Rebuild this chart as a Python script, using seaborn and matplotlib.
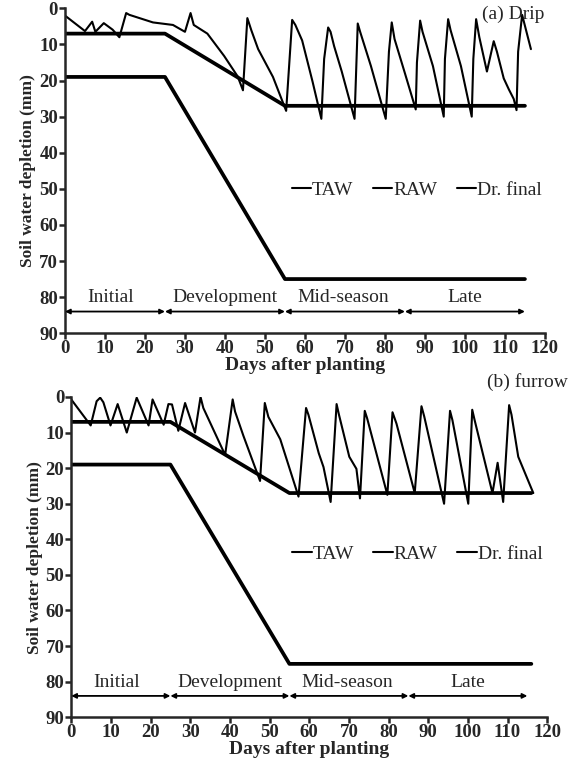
import matplotlib
matplotlib.use("Agg")
import matplotlib.pyplot as plt
import seaborn as sns
import pandas as pd
from matplotlib.lines import Line2D

# ---------------- data ----------------
drip_stage_days = [0, 25, 55, 115]
furrow_stage_days = [0, 25, 55, 116]
taw_mm = [19, 19, 75, 75]
raw_mm = [7, 7, 27, 27]

drip_days = [0, 5, 6.8, 7.6, 9.7, 11.9, 13.6, 15.3, 16.1, 22, 27, 30, 31.4, 32.2,
             35.6, 39.8, 43.2, 44.5, 45.6, 46.6, 48.3, 52, 55.3, 56.8, 57.6, 59.3,
             61.9, 64.1, 64.8, 65.8, 66.4, 67.3, 69.2, 72.4, 73.2, 73.8, 76.5, 80.2,
             81.0, 81.7, 82.4, 85, 87.7, 88.0, 88.8, 89.4, 92, 94.7, 95.0, 95.8,
             96.4, 99, 101.7, 102.1, 102.8, 103.6, 105.5, 107.2, 108.0, 109.7, 111,
             112.2, 112.9, 113.3, 114.3, 116.5]
drip_dr = [2.0, 6.3, 3.7, 6.5, 4.1, 5.9, 8.0, 1.3, 1.8, 3.9, 4.6, 6.5, 1.3, 4.6,
           7.0, 13.2, 18.9, 22.7, 2.7, 6.1, 11.3, 19, 28.4, 3.2, 4.6, 8.9,
           20.3, 30.6, 14, 5.3, 6.5, 10.5, 17.5, 30.6, 4.2, 6.5, 16, 30.6,
           12, 3.9, 8.5, 18, 28.0, 15, 3.4, 6.5, 16, 30, 14, 3.0,
           6, 16, 30, 14, 3.0, 8, 17.5, 9.1, 12, 19.4, 22.5,
           25.1, 28.2, 12, 1.8, 11.3]

furrow_days = [0, 4.9, 6.4, 7.3, 8.1, 9.9, 11.7, 14.0, 16.5, 19.5, 20.5, 23.3, 24.5,
               25.4, 27.0, 28.7, 31.2, 32.6, 33.3, 38.8, 40.7, 41.3, 43.4, 47.6,
               48.8, 49.7, 52.7, 57.3, 59.2, 59.8, 62.4, 63.6, 65.4, 66.9, 67.5,
               70.1, 71.9, 72.8, 74.0, 74.6, 79.7, 81.0, 82.0, 86.6, 88.3, 89.0, 94.0,
               95.5, 96.1, 100.1, 101.1, 101.7, 106.2, 107.5, 108.9, 110.4, 111.0,
               112.7, 115.6, 116.5]
furrow_dr = [0.7, 8, 1.2, 0.2, 1.5, 8, 2, 10, 0.2, 8, 0.7, 7.8, 2,
             2.1, 9.5, 1.7, 10, 0, 3.1, 16.3, 0.7, 4.1, 10.9, 23.6,
             1.7, 5.6, 11.9, 28, 3.1, 5, 15.8, 19.7, 29.5, 2, 5,
             16.8, 20.2, 28.5, 3.9, 6, 27.5, 4.3, 7.5, 27, 2.6, 5.5, 30,
             3.9, 6.5, 30, 3.6, 6.5, 27, 18.5, 29.5, 2.3, 5,
             16.8, 24.6, 27]

stages = ["Initial", "Development", "Mid-season", "Late"]
stage_bounds = [0, 25, 55, 85, 115]
stage_label_x = [11.5, 40, 69.5, 100]
legend_labels = ["TAW", "RAW", "Dr. final"]
x_ticks = list(range(0, 121, 10))
y_ticks = list(range(0, 91, 10))

# ---------------- style ----------------
sns.set_style("ticks")
plt.rcParams["font.family"] = ["Liberation Serif", "DejaVu Serif"]
plt.rcParams["axes.linewidth"] = 1.8

fig = plt.figure(figsize=(5.70, 7.59), dpi=100)
ax1 = fig.add_axes([0.114, 0.561, 0.842, 0.428])
ax2 = fig.add_axes([0.125, 0.055, 0.835, 0.422])

panels = [
    (ax1, drip_stage_days, drip_days, drip_dr, 0.733, 0.44, 84.0, 82.6),
    (ax2, furrow_stage_days, furrow_days, furrow_dr, 0.727, 0.51, 84.0, 82.6),
]

for ax, sd, dd, dr, leg_x, leg_y, arr_y, txt_y in panels:
    sns.lineplot(x=sd, y=taw_mm, ax=ax, color="black", linewidth=2.7)
    sns.lineplot(x=sd, y=raw_mm, ax=ax, color="black", linewidth=2.7)
    df = pd.DataFrame({"day": dd, "dr": dr})
    sns.lineplot(data=df, x="day", y="dr", ax=ax, color="black", linewidth=1.5,
                 sort=False, estimator=None)
    ax.set_xlim(0, 120)
    ax.set_ylim(90, 0)
    ax.set_xticks(x_ticks)
    ax.set_yticks(y_ticks)
    ax.tick_params(axis="both", direction="out", length=4, width=1.8,
                   labelsize=13.5, pad=1)
    for lab in ax.get_xticklabels() + ax.get_yticklabels():
        lab.set_fontweight("bold")
    sns.despine(ax=ax)
    ax.set_xlabel("Days after planting", fontsize=14, fontweight="bold", labelpad=0)
    ax.set_ylabel("Soil water depletion (mm)", fontsize=12.5, fontweight="bold",
                  labelpad=2)

    # growth stages
    for i in range(len(stages)):
        ax.annotate("", xy=(stage_bounds[i + 1], arr_y), xytext=(stage_bounds[i], arr_y),
                    arrowprops=dict(arrowstyle="<|-|>", color="black", lw=1.3,
                                    mutation_scale=7, shrinkA=0, shrinkB=0))
        ax.text(stage_label_x[i], txt_y, stages[i], ha="center", va="bottom",
                fontsize=14)

    handles = [Line2D([0], [0], color="black", lw=1.5) for _ in legend_labels]
    ax.legend(handles, legend_labels, loc="center", ncol=3, frameon=False,
              bbox_to_anchor=(leg_x, leg_y), handlelength=1.0, handletextpad=0.05,
              columnspacing=1.0, fontsize=14)

fig.text(0.955, 0.981, "(a) Drip", ha="right", va="center", fontsize=14)
fig.text(0.997, 0.497, "(b) furrow", ha="right", va="center", fontsize=14)

fig.savefig("out.png", dpi=100)
